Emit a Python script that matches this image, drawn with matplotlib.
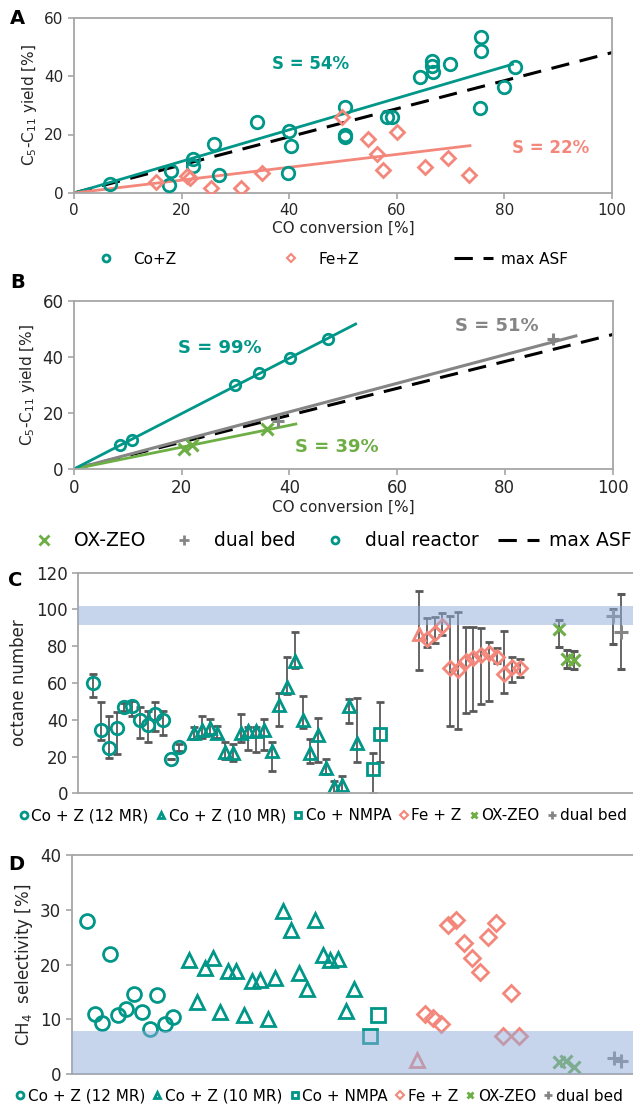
import numpy as np
import matplotlib.pyplot as plt
from matplotlib.lines import Line2D

plt.rcParams['font.family'] = ['DejaVu Sans']

TEAL = '#009688'
SALMON = '#F4877B'
GREEN = '#6DAE45'
GREY = '#858585'
BAND = '#8FABDB'
ERR = '#595959'
FRAME = '#A6A6A6'

# ---- panel A: CO conversion vs C5-C11 yield ----
coz_conv = [6.6, 17.7, 18.0, 22.2, 22.2, 26.0, 26.9, 34.1, 39.9, 40.3, 39.7, 50.3, 50.3, 50.3,
            58.2, 59.2, 64.4, 66.5, 66.5, 66.7, 69.9, 75.4, 75.7, 75.7, 80.0, 81.9]
coz_yield = [3.2, 2.8, 7.4, 11.7, 9.4, 16.8, 6.3, 24.2, 21.3, 15.9, 6.8, 29.5, 19.9, 19.3,
             25.9, 25.9, 39.8, 45.2, 43.4, 41.5, 44.1, 29.0, 53.2, 48.6, 36.1, 43.2]
fez_conv = [15.2, 21.0, 21.6, 25.5, 31.0, 35.0, 49.9, 54.6, 56.4, 57.4, 60.1, 65.3, 69.5, 73.5]
fez_yield = [3.6, 5.7, 5.1, 1.7, 1.7, 7.0, 26.1, 18.4, 13.4, 8.0, 20.7, 8.9, 11.9, 6.0]
s_coz, xmax_coz = 0.54, 81.5
s_fez, xmax_fez = 0.22, 73.6
s_asf = 0.48

# ---- panel B ----
oxzeo_conv = [20.5, 22.0, 35.9]
oxzeo_yield = [7.3, 8.5, 14.2]
dualbed_conv = [37.8, 89.0]
dualbed_yield = [17.2, 46.4]
dualreac_conv = [8.6, 10.7, 29.9, 34.4, 40.2, 47.1]
dualreac_yield = [8.5, 10.4, 29.9, 34.3, 39.8, 46.4]
s_dualreac, xmax_dualreac = 0.99, 52.3
s_dualbed, xmax_dualbed = 0.51, 93.2
s_oxzeo, xmax_oxzeo = 0.39, 41.2

# ---- panel C: octane number (value, lower bar end, upper bar end) ----
co12_idx = [1, 2, 3, 4, 5, 6, 7, 8, 9, 10, 11, 12]
co12_ron = [60, 34.3, 24.8, 35.3, 46.8, 47.5, 39.9, 37.2, 43, 39.7, 18.7, 25]
co12_lo = [52.4, 29, 19.4, 21.2, 45, 42.2, 30.3, 27.7, 33.9, 31.5, 18.7, 23]
co12_hi = [64.7, 49.5, 42.2, 44, 49, 50, 47, 45, 49.8, 44.5, 18.7, 27]

co10_idx = [14, 15, 16, 17, 18, 19, 20, 21, 22, 23, 24, 25, 26, 27, 28, 29, 30, 31, 32, 33, 34, 35]
co10_ron = [33, 34.4, 35.7, 33, 22.7, 22.1, 33, 33.9, 33.9, 34.4, 23, 48, 58, 72, 40, 22, 31.7,
            14, 3.6, 4.5, 47.5, 27.2]
co10_lo = [29.5, 30.3, 31.5, 29.9, 18.7, 17.6, 28.1, 23.6, 22.7, 23.6, 12.1, 36.6, 54, 68, 35.3,
           16.7, 16.9, 10.5, 0, 0, 38.4, 16.9]
co10_hi = [36, 42.2, 40.2, 36.8, 28.1, 26.8, 43.1, 36, 36, 40.4, 28.1, 54.4, 74, 87.9, 53.1,
           29.4, 40.8, 18.7, 6.7, 9.4, 51.3, 52]

nmpa_idx = [37, 38]
nmpa_ron = [13, 32.1]
nmpa_lo = [0, 16.9]
nmpa_hi = [22.1, 49.8]

fe_tri_idx = [43]
fe_tri_ron = [86.5]
fe_tri_lo = [67]
fe_tri_hi = [110.2]

fez_idx = [44, 45, 46, 47, 48, 49, 50, 51, 52, 53, 54, 55, 56]
fez_ron = [83.7, 87, 91, 68, 67, 72, 73.4, 75.2, 76.5, 74.3, 64.7, 68.5, 68.3]
fez_lo = [79.4, 82, 86, 36.8, 34.8, 43.9, 45, 48.4, 50.4, 70.7, 54.4, 60.7, 63.4]
fez_hi = [95.5, 96, 98.2, 96.4, 98.8, 90.6, 90.6, 89.7, 82.5, 78.8, 88.3, 74, 73]

ox_idx = [61, 62, 63]
ox_ron = [89.2, 72.9, 72.5]
ox_lo = [79.4, 68.3, 67.6]
ox_hi = [94.3, 78, 77.6]

db_idx = [68, 69]
db_ron = [96.6, 87.5]
db_lo = [81, 67.6]
db_hi = [100.2, 108.2]

ron_band = (91.4, 101.9)

# ---- panel D: CH4 selectivity ----
co12_ch4 = [28, 11, 9.4, 21.9, 10.8, 11.9, 14.6, 11.3, 8.2, 14.5, 9.1, 10.5]
co10_ch4 = [20.9, 13.2, 19.3, 21.3, 11.3, 18.9, 18.9, 10.8, 17, 17.2, 10, 17.5, 29.8, 26.3,
            18.5, 15.5, 28.2, 21.8, 20.9, 21, 11.6, 15.5]
nmpa_ch4 = [7, 10.7]
fe_tri_ch4 = [2.6]
fez_ch4 = [11, 10.2, 9.2, 27.3, 28.1, 23.9, 21.3, 18.7, 25, 27.7, 7, 14.9, 7]
ox_ch4 = [2.2, 2.3, 1.2]
db_ch4 = [2.9, 2.3]
ch4_band = (0, 7.9)

W, H = 633, 1106


def box(left, top, right, bottom):
    return [left / W, 1 - bottom / H, (right - left) / W, (bottom - top) / H]


def style_frame(ax, tick_size):
    for sp in ax.spines.values():
        sp.set_color(FRAME)
        sp.set_linewidth(1.3)
    ax.tick_params(axis='both', colors=FRAME, labelcolor='#262626', labelsize=tick_size,
                   length=4, width=1.2)


fig = plt.figure(figsize=(6.33, 11.06), dpi=100)

# ---------------- A ----------------
axA = fig.add_axes(box(74, 17.5, 612, 193))
axA.plot([0, 100], [0, 100 * s_asf], color='black', lw=2.2, dashes=(6, 3.5), zorder=2)
axA.plot([0, xmax_coz], [0, xmax_coz * s_coz], color=TEAL, lw=2, zorder=2)
axA.plot([0, xmax_fez], [0, xmax_fez * s_fez], color=SALMON, lw=2, zorder=2)
axA.plot(coz_conv, coz_yield, 'o', mfc='none', mec=TEAL, mew=2, ms=9, zorder=3)
axA.plot(fez_conv, fez_yield, 'D', mfc='none', mec=SALMON, mew=2, ms=7, zorder=3)
axA.text(44, 44, 'S = 54%', color=TEAL, fontsize=12, fontweight='bold', ha='center', va='center')
axA.text(88.5, 15.3, 'S = 22%', color=SALMON, fontsize=12, fontweight='bold', ha='center', va='center')
axA.set_xlim(0, 100)
axA.set_ylim(0, 60)
axA.set_xticks(np.arange(0, 101, 20))
axA.set_yticks(np.arange(0, 61, 20))
style_frame(axA, 11)
axA.set_xlabel('CO conversion [%]', fontsize=11, color='#262626', labelpad=2)
axA.set_ylabel('C$_5$-C$_{11}$ yield [%]', fontsize=11, color='#262626', labelpad=4)
handlesA = [Line2D([], [], ls='none', marker='o', mfc='none', mec=TEAL, mew=2, ms=5),
            Line2D([], [], ls='none', marker='D', mfc='none', mec=SALMON, mew=1.5, ms=4),
            Line2D([], [], color='black', lw=2.2, dashes=(6, 3.5))]
axA.legend(handlesA, ['Co+Z', 'Fe+Z', 'max ASF'], loc='upper center', bbox_to_anchor=(0.47, -0.255),
           ncol=3, frameon=False, fontsize=11, columnspacing=6.2, handlelength=2.6, handletextpad=0.5)
fig.text(10 / W, 1 - 18 / H, 'A', fontsize=14, fontweight='bold', va='center')

# ---------------- B ----------------
axB = fig.add_axes(box(74, 301, 612.5, 469))
axB.plot([0, 100], [0, 100 * s_asf], color='black', lw=2.2, dashes=(6, 3.5), zorder=2)
axB.plot([0, xmax_dualbed], [0, xmax_dualbed * s_dualbed], color=GREY, lw=2.2, zorder=2)
axB.plot([0, xmax_oxzeo], [0, xmax_oxzeo * s_oxzeo], color=GREEN, lw=2, zorder=2)
axB.plot([0, xmax_dualreac], [0, xmax_dualreac * s_dualreac], color=TEAL, lw=2, zorder=2)
axB.plot(dualreac_conv, dualreac_yield, 'o', mfc='none', mec=TEAL, mew=2, ms=7.5, zorder=3)
axB.plot(oxzeo_conv, oxzeo_yield, 'x', color=GREEN, mew=2.2, ms=9, zorder=3)
axB.plot(dualbed_conv, dualbed_yield, '+', color=GREY, mew=2.2, ms=9, zorder=3)
axB.text(27, 43.2, 'S = 99%', color=TEAL, fontsize=13, fontweight='bold', ha='center', va='center')
axB.text(78.5, 51, 'S = 51%', color=GREY, fontsize=13, fontweight='bold', ha='center', va='center')
axB.text(48.8, 7.7, 'S = 39%', color=GREEN, fontsize=13, fontweight='bold', ha='center', va='center')
axB.set_xlim(0, 100)
axB.set_ylim(0, 60)
axB.set_xticks(np.arange(0, 101, 20))
axB.set_yticks(np.arange(0, 61, 20))
style_frame(axB, 12)
axB.set_xlabel('CO conversion [%]', fontsize=11, color='#262626', labelpad=2)
axB.set_ylabel('C$_5$-C$_{11}$ yield [%]', fontsize=11, color='#262626', labelpad=4)
handlesB = [Line2D([], [], ls='none', marker='x', color=GREEN, mew=2, ms=7),
            Line2D([], [], ls='none', marker='+', color=GREY, mew=2, ms=7),
            Line2D([], [], ls='none', marker='o', mfc='none', mec=TEAL, mew=2, ms=5),
            Line2D([], [], color='black', lw=2.2, dashes=(6, 3.5))]
axB.legend(handlesB, ['OX-ZEO', 'dual bed', 'dual reactor', 'max ASF'], loc='upper center',
           bbox_to_anchor=(0.47, -0.27), ncol=4, frameon=False, fontsize=13.5,
           columnspacing=1.0, handlelength=2.2, handletextpad=0.5)
fig.text(10 / W, 1 - 283 / H, 'B', fontsize=14, fontweight='bold', va='center')


# ---------------- C / D shared helpers ----------------
def errs(vals, lo, hi):
    v = np.array(vals)
    return [v - np.array(lo), np.array(hi) - v]


ekw = dict(ecolor=ERR, elinewidth=1.3, capsize=3, capthick=1.3, ls='none')

axC = fig.add_axes(box(78.3, 572.7, 634, 793.3))
axC.errorbar(co12_idx, co12_ron, yerr=errs(co12_ron, co12_lo, co12_hi), marker='o', mfc='none',
             mec=TEAL, mew=2, ms=9, **ekw)
axC.errorbar(co10_idx, co10_ron, yerr=errs(co10_ron, co10_lo, co10_hi), marker='^', mfc='none',
             mec=TEAL, mew=2, ms=9, **ekw)
axC.errorbar(nmpa_idx, nmpa_ron, yerr=errs(nmpa_ron, nmpa_lo, nmpa_hi), marker='s', mfc='none',
             mec=TEAL, mew=2, ms=9, **ekw)
axC.errorbar(fe_tri_idx, fe_tri_ron, yerr=errs(fe_tri_ron, fe_tri_lo, fe_tri_hi), marker='^',
             mfc='none', mec=SALMON, mew=2, ms=9, **ekw)
axC.errorbar(fez_idx, fez_ron, yerr=errs(fez_ron, fez_lo, fez_hi), marker='D', mfc='none',
             mec=SALMON, mew=2, ms=7.5, **ekw)
axC.errorbar(ox_idx, ox_ron, yerr=errs(ox_ron, ox_lo, ox_hi), marker='x', mfc='none',
             mec=GREEN, mew=2.2, ms=9, **ekw)
axC.errorbar(db_idx, db_ron, yerr=errs(db_ron, db_lo, db_hi), marker='+', mfc='none',
             mec=GREY, mew=2.2, ms=10, **ekw)
axC.axhspan(*ron_band, color=BAND, alpha=0.5, lw=0, zorder=5)
axC.set_xlim(-0.93, 70.7)
axC.set_ylim(0, 120)
axC.set_yticks(np.arange(0, 121, 20))
axC.set_xticks([])
style_frame(axC, 12)
axC.set_ylabel('octane number', fontsize=12, color='#262626', labelpad=6)
fig.text(8 / W, 1 - 580 / H, 'C', fontsize=14, fontweight='bold', va='center')

axD = fig.add_axes(box(71.7, 855.3, 634, 1074))
axD.plot(co12_idx, co12_ch4, 'o', mfc='none', mec=TEAL, mew=2, ms=10)
axD.plot(co10_idx, co10_ch4, '^', mfc='none', mec=TEAL, mew=2, ms=10)
axD.plot(nmpa_idx, nmpa_ch4, 's', mfc='none', mec=TEAL, mew=2, ms=10)
axD.plot(fe_tri_idx, fe_tri_ch4, '^', mfc='none', mec=SALMON, mew=2, ms=10)
axD.plot(fez_idx, fez_ch4, 'D', mfc='none', mec=SALMON, mew=2, ms=8)
axD.plot(ox_idx, ox_ch4, 'x', color=GREEN, mew=2.2, ms=9)
axD.plot(db_idx, db_ch4, '+', color=GREY, mew=2.2, ms=10)
axD.axhspan(*ch4_band, color=BAND, alpha=0.5, lw=0, zorder=5)
axD.set_xlim(-0.91, 70.6)
axD.set_ylim(0, 40)
axD.set_yticks(np.arange(0, 41, 10))
axD.set_xticks([])
style_frame(axD, 12)
axD.set_ylabel('CH$_4$  selectivity [%]', fontsize=12, color='#262626', labelpad=4)
fig.text(8 / W, 1 - 865 / H, 'D', fontsize=14, fontweight='bold', va='center')

# legends for C and D
labelsCD = ['Co + Z (12 MR)', 'Co + Z (10 MR)', 'Co + NMPA', 'Fe + Z', 'OX-ZEO', 'dual bed']
for ax in (axC, axD):
    hs = [Line2D([], [], ls='none', marker='o', mfc='none', mec=TEAL, mew=2, ms=5),
          Line2D([], [], ls='none', marker='^', mfc='none', mec=TEAL, mew=2, ms=5),
          Line2D([], [], ls='none', marker='s', mfc='none', mec=TEAL, mew=2, ms=5),
          Line2D([], [], ls='none', marker='D', mfc='none', mec=SALMON, mew=1.5, ms=4),
          Line2D([], [], ls='none', marker='x', color=GREEN, mew=2, ms=5),
          Line2D([], [], ls='none', marker='+', color=GREY, mew=2, ms=6)]
    ax.legend(hs, labelsCD, loc='upper center', bbox_to_anchor=(0.44, -0.005), ncol=6,
              frameon=False, fontsize=11, columnspacing=0.5, handlelength=0.6, handletextpad=0.2)

fig.savefig('out.png', dpi=100)
